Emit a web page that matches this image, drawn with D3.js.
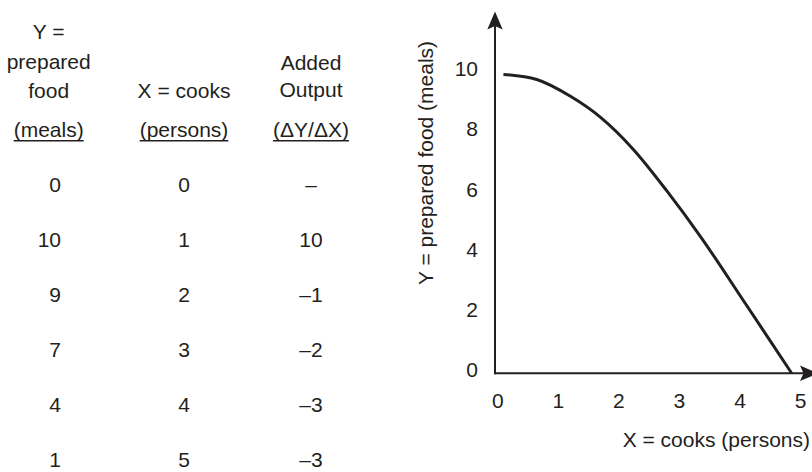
<!DOCTYPE html>
<html>
<head>
<meta charset="utf-8">
<script src="https://cdn.jsdelivr.net/npm/d3@7"></script>
<style>
  html, body { margin: 0; padding: 0; background: #fff; }
  svg { display: block; }
  text { font-family: "Liberation Sans", Arial, Helvetica, sans-serif; fill: #231f20; }
</style>
</head>
<body>
<svg id="chart" width="812" height="472"></svg>
<script>
// ---- Table data ----
const mealsCol = [0, 10, 9, 7, 4, 1];
const cooksCol = [0, 1, 2, 3, 4, 5];
const addedCol = ["–", "10", "–1", "–2", "–3", "–3"];

// ---- Curve data (Y = prepared food vs X = cooks) ----
const curveX = [0.1, 0.65, 1.2, 1.7, 2.25, 2.8, 3.35, 4.1, 4.86];
const curveY = [9.92, 9.75, 9.2, 8.5, 7.42, 6.05, 4.55, 2.3, 0];

// ---- Tick labels ----
const xTicks = [0, 1, 2, 3, 4, 5];
const yTicks = [0, 2, 4, 6, 8, 10];

const ink = "#231f20";
const fs = 21;
const svg = d3.select("#chart");

// ================= TABLE =================
const table = svg.append("g");
const col1Center = 48.7, col1Right = 61, col2Center = 184, col3Center = 311;

function header(x, y, txt, underline) {
  const t = table.append("text")
    .attr("x", x).attr("y", y)
    .attr("text-anchor", "middle")
    .attr("font-size", fs)
    .text(txt);
  if (underline) {
    const w = t.node().getComputedTextLength();
    table.append("line")
      .attr("x1", x - w / 2).attr("x2", x + w / 2)
      .attr("y1", y + 4).attr("y2", y + 4)
      .attr("stroke", ink).attr("stroke-width", 1.4);
  }
}
header(col1Center, 39.3, "Y =");
header(col1Center, 68.5, "prepared");
header(col1Center, 98.3, "food");
header(col1Center, 136.7, "(meals)", true);
header(col2Center, 98.3, "X = cooks");
header(col2Center, 136.7, "(persons)", true);
header(col3Center, 70, "Added");
header(col3Center, 96.7, "Output");
header(col3Center, 136.7, "(\u0394Y/\u0394X)", true);

const rowY = d3.scalePoint().domain(d3.range(mealsCol.length)).range([191.7, 467]);

table.selectAll("text.c1").data(mealsCol).join("text")
  .attr("class", "c1")
  .attr("x", col1Right).attr("y", (d, i) => rowY(i))
  .attr("text-anchor", "end").attr("font-size", fs)
  .text(d => d);
table.selectAll("text.c2").data(cooksCol).join("text")
  .attr("class", "c2")
  .attr("x", col2Center).attr("y", (d, i) => rowY(i))
  .attr("text-anchor", "middle").attr("font-size", fs)
  .text(d => d);
table.selectAll("text.c3").data(addedCol).join("text")
  .attr("class", "c3")
  .attr("x", col3Center).attr("y", (d, i) => rowY(i))
  .attr("text-anchor", "middle").attr("font-size", fs)
  .text(d => d);

// ================= GRAPH =================
const originX = 495, originY = 373.3;
const x = d3.scaleLinear().domain([0, 5]).range([497.4, 800]);
const y = d3.scaleLinear().domain([0, 10]).range([373, 72]);

const g = svg.append("g");

// axes lines with arrowheads
g.append("line")
  .attr("x1", originX).attr("x2", originX)
  .attr("y1", originY + 1).attr("y2", 26)
  .attr("stroke", ink).attr("stroke-width", 2);
g.append("path")
  .attr("d", `M${originX},11.5 L${originX - 7.7},29.5 L${originX},26 L${originX + 7.7},29.5 Z`)
  .attr("fill", ink);

g.append("line")
  .attr("x1", originX - 1).attr("x2", 804)
  .attr("y1", originY).attr("y2", originY)
  .attr("stroke", ink).attr("stroke-width", 2);
g.append("path")
  .attr("d", `M818,${originY} L800,${originY - 7.8} L803.5,${originY} L800,${originY + 7.8} Z`)
  .attr("fill", ink);

// tick labels via d3 axes (no tick marks, no domain)
const xAxis = g.append("g")
  .attr("transform", `translate(0,${originY})`)
  .call(d3.axisBottom(x).tickValues(xTicks).tickSize(0).tickPadding(20).tickFormat(d3.format("d")));
xAxis.select(".domain").remove();
xAxis.selectAll("text").attr("font-size", fs).attr("font-family", null).style("fill", ink);

const yAxis = g.append("g")
  .attr("transform", `translate(${originX},0)`)
  .call(d3.axisLeft(y).tickValues(yTicks).tickSize(0).tickPadding(17).tickFormat(d3.format("d")));
yAxis.select(".domain").remove();
yAxis.selectAll("text").attr("font-size", fs).attr("font-family", null).attr("dy", "0.18em").style("fill", ink);

// axis titles
g.append("text")
  .attr("x", 810).attr("y", 447)
  .attr("text-anchor", "end").attr("font-size", fs)
  .text("X = cooks (persons)");
g.append("text")
  .attr("transform", "translate(433,163) rotate(-90)")
  .attr("text-anchor", "middle").attr("font-size", fs)
  .text("Y = prepared food (meals)");

// curve
const pts = curveX.map((v, i) => [v, curveY[i]]);
g.append("path")
  .datum(pts)
  .attr("fill", "none")
  .attr("stroke", ink)
  .attr("stroke-width", 3)
  .attr("d", d3.line().x(d => x(d[0])).y(d => y(d[1])).curve(d3.curveMonotoneX));
</script>
</body>
</html>
